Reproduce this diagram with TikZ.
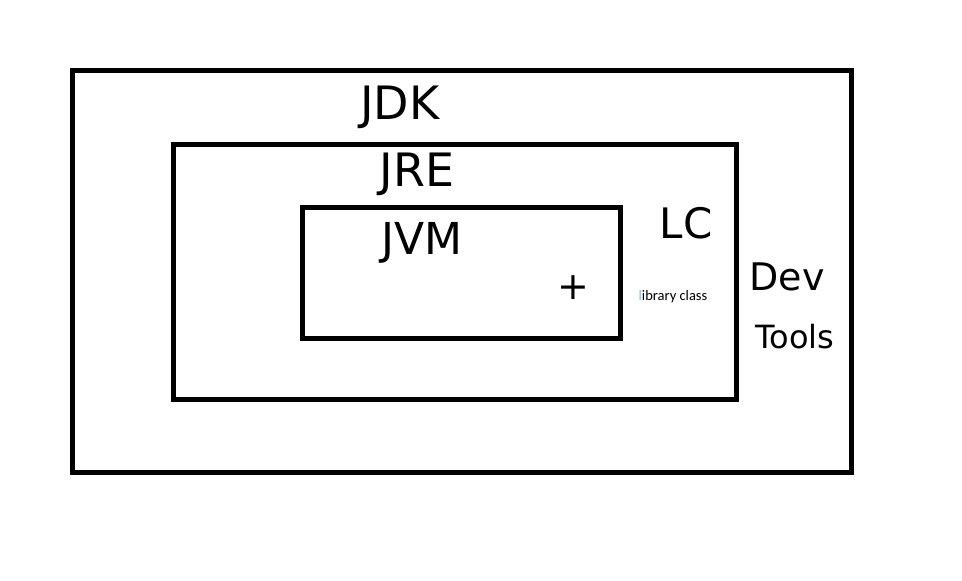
\documentclass[tikz,border=0pt]{standalone}
\usepackage{fontspec}
\setmainfont{DejaVu Sans}
\newfontfamily\uifont{Carlito}
\usetikzlibrary{positioning}

\definecolor{cursorblue}{RGB}{120,190,225}

\def\pageW{962}
\def\pageH{581}

\begin{document}
\begin{tikzpicture}[x=1pt, y=-1pt,
    box/.style={draw, line width=5pt, inner sep=0pt, outer sep=0pt},
    scrawl/.style={font=\fontsize{46}{46}\selectfont, inner sep=0pt},
    note/.style={font=\uifont\fontsize{14.5}{14.5}\selectfont, inner sep=0pt}]
      \useasboundingbox (0, 0) rectangle (\pageW, \pageH);
      % nested boxes
      \node[box, minimum width=779.3pt, minimum height=402pt] (jdkbox) at (462.15, 271.5) {};
      \node[box, minimum width=563.3pt, minimum height=255.1pt] (jrebox) at (454.85, 271.75) {};
      \node[box, minimum width=317.7pt, minimum height=130.7pt] (jvmbox) at (461.35, 272.85) {};
      % labels
      \node[scrawl] (jdk) at (400, 107) {JDK};
      \node[scrawl] (jre) at (417, 174) {JRE};
      \node[scrawl, font=\fontsize{44}{44}\selectfont] (jvm) at (422, 243) {JVM};
      \node[scrawl, font=\fontsize{42}{42}\selectfont] (lc) at (686, 223) {LC};
      \node[scrawl, font=\fontsize{38}{38}\selectfont] (plus) at (573, 288) {+};
      \node[note] (libclass) at (673, 297) {\textcolor{cursorblue}{l}ibrary class};
      \node[scrawl, font=\fontsize{38}{38}\selectfont] (dev) at (787, 277) {Dev};
      \node[scrawl, font=\fontsize{32}{32}\selectfont] (tools) at (795, 337) {Tools};
\end{tikzpicture}
\end{document}
